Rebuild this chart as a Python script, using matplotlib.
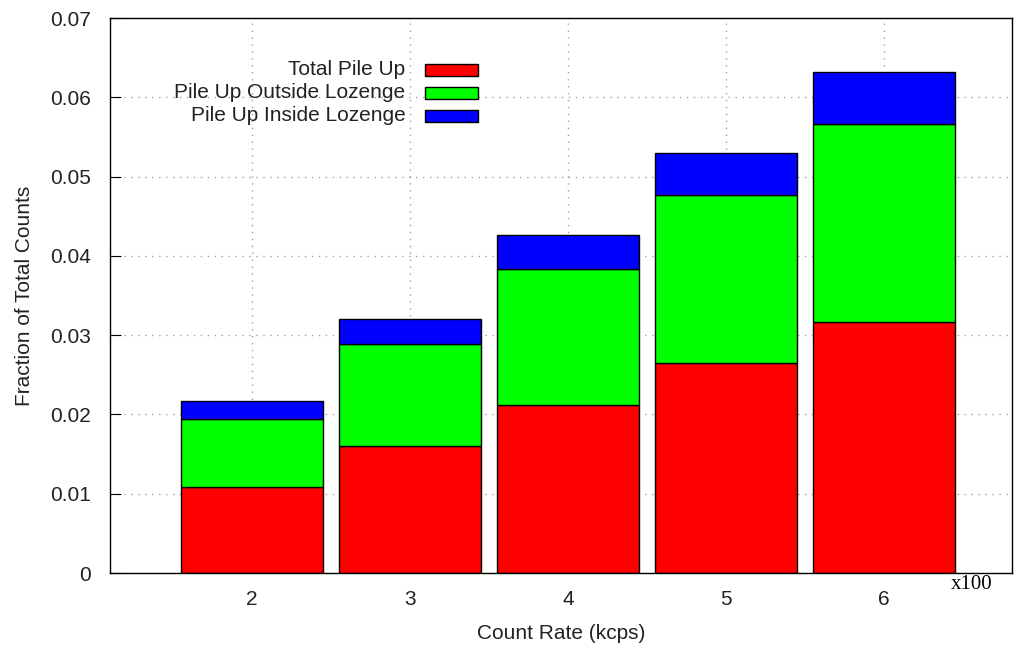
import matplotlib.pyplot as plt
from matplotlib.patches import Rectangle

plt.rcParams['font.family'] = ['Liberation Sans', 'DejaVu Sans']

rates = [2, 3, 4, 5, 6]
total_pile_up = [0.0108, 0.0160, 0.0212, 0.0265, 0.0317]
outside_lozenge = [0.0086, 0.0129, 0.0171, 0.0212, 0.0250]
inside_lozenge = [0.0023, 0.0031, 0.0043, 0.0053, 0.0065]
labels = ['Total Pile Up', 'Pile Up Outside Lozenge', 'Pile Up Inside Lozenge']
colors = ['#ff0000', '#00ff00', '#0000ff']

fig = plt.figure(figsize=(10.19, 6.46), dpi=100)
ax = fig.add_axes([0.108, 0.113, 0.885, 0.859])

bottom2 = [a + b for a, b in zip(total_pile_up, outside_lozenge)]
w = 0.9
kw = dict(width=w, edgecolor='black', linewidth=1.0, zorder=3)
ax.bar(rates, total_pile_up, color=colors[0], **kw)
ax.bar(rates, outside_lozenge, bottom=total_pile_up, color=colors[1], **kw)
ax.bar(rates, inside_lozenge, bottom=bottom2, color=colors[2], **kw)

ax.set_xlim(1.1, 6.81)
ax.set_ylim(0, 0.07)
ax.set_xticks(rates)
ax.set_yticks([0, 0.01, 0.02, 0.03, 0.04, 0.05, 0.06, 0.07])
ax.set_yticklabels(['0', '0.01', '0.02', '0.03', '0.04', '0.05', '0.06', '0.07'])
ax.grid(True, color='#a0a0a0', linestyle=(0, (1, 4)), linewidth=1.0, zorder=0)
ax.tick_params(direction='in', length=8, labelsize=15, colors='black',
               labelcolor='#222222', top=False, right=False)
ax.tick_params(axis='y', pad=14)
ax.tick_params(axis='x', pad=12)
for s in ax.spines.values():
    s.set_linewidth(1.0)
    s.set_zorder(5)

ax.set_xlabel('Count Rate (kcps)', fontsize=15, labelpad=11, color='#222222')
ax.set_ylabel('Fraction of Total Counts', fontsize=15, labelpad=11, color='#222222')
ax.text(0.978, -0.021, 'x100', transform=ax.transAxes, fontsize=15,
        family=['Liberation Serif', 'DejaVu Serif'], ha='right', va='center')

# legend drawn by hand: right-aligned labels, boxes on the right
for i, (lab, col) in enumerate(zip(labels, colors)):
    y = 0.907 - i * 0.0415
    ax.text(0.3275, y, lab, transform=ax.transAxes, fontsize=15,
            ha='right', va='center', zorder=6, color='#222222')
    ax.add_patch(Rectangle((0.3495, y - 0.011), 0.058, 0.021,
                           transform=ax.transAxes, facecolor=col,
                           edgecolor='black', linewidth=1.0, zorder=6))

fig.savefig('out.png', dpi=100)
